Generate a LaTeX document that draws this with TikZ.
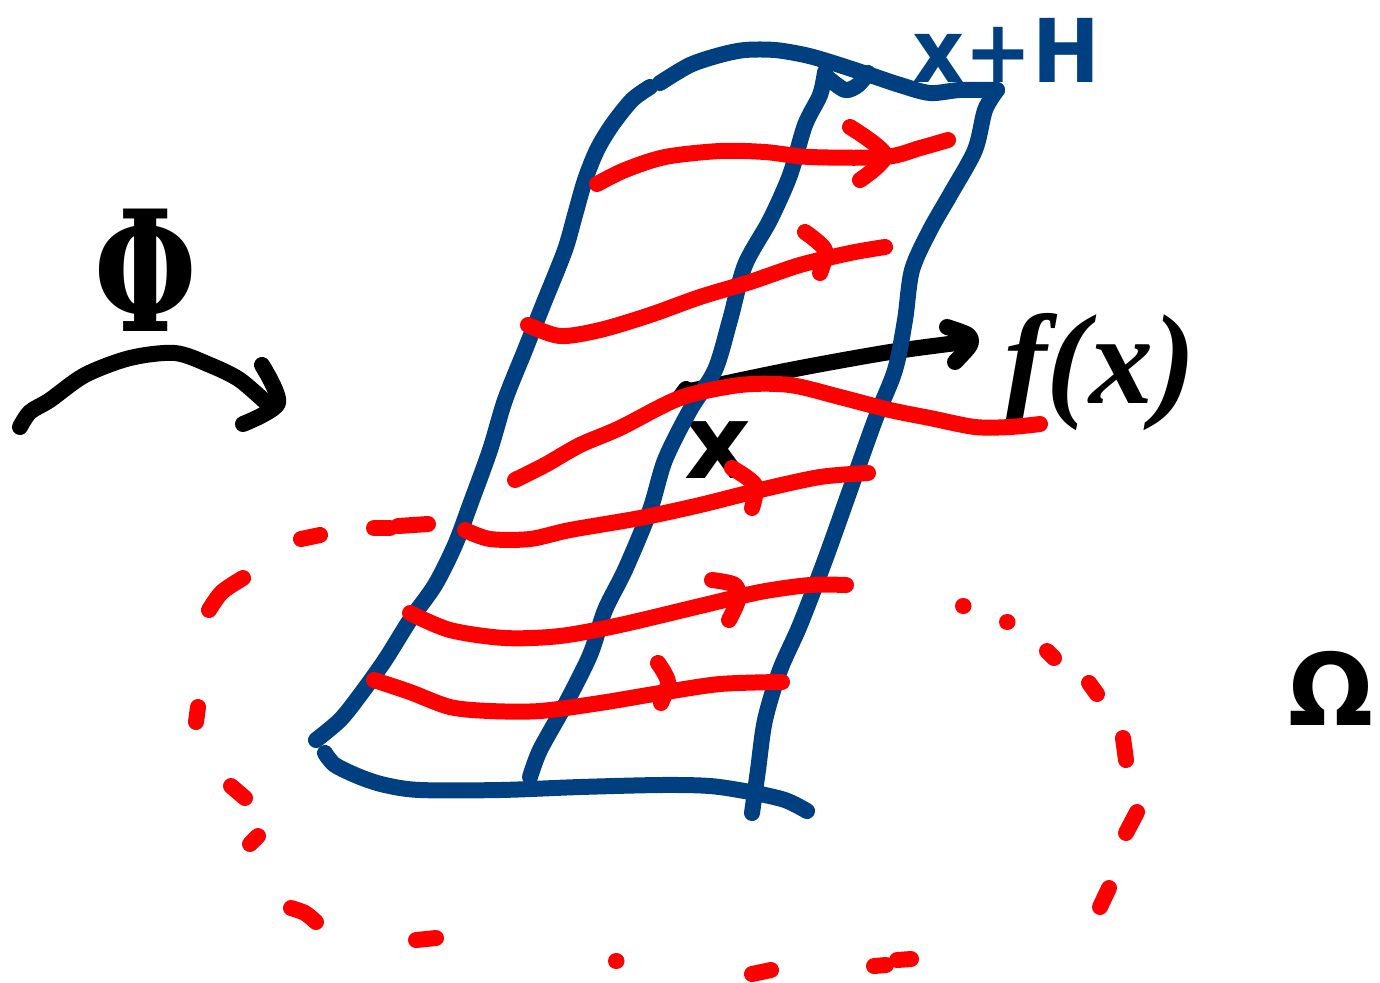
\documentclass[tikz,border=0pt]{standalone}
\usepackage{fontspec}
\setmainfont{DejaVu Sans}
\newfontfamily\serifhand{DejaVu Serif}
\newfontfamily\ithand{Liberation Serif}[BoldItalicFont={Liberation Serif Bold Italic}]
\definecolor{inkblue}{HTML}{004080}
\definecolor{inkred}{HTML}{FF0000}
\tikzset{
  inkline/.style={line width=8pt,line cap=round,line join=round},
  bluestroke/.style={inkline,draw=inkblue},
  redstroke/.style={inkline,draw=inkred},
  blackstroke/.style={inkline,draw=black},
  handtext/.style={inner sep=0pt,outer sep=0pt}
}
\newcommand{\sk}[2]{\draw[#1] plot[smooth,tension=0.5] coordinates {#2};}
\begin{document}
\begin{tikzpicture}[x=0.5pt,y=-0.5pt]
\useasboundingbox (0,0) rectangle (1380,982);
% black
\sk{blackstroke}{(680,397)(686,389)}
\sk{blackstroke}{(685,392)(790,370)(890,352)(965,342)}
\sk{blackstroke}{(947,327)(968,335)(970,345)(955,362)}
\sk{blackstroke}{(20,427)(30,412)(50,400)(85,375)(130,358)(175,353)(210,365)(240,380)(272,408)}
\sk{blackstroke}{(262,365)(278,403)(243,424)}
\node[handtext,text=black] (phi) at (146,270) {\scalebox{0.7}[1]{\serifhand\bfseries\fontsize{84pt}{84pt}\selectfont Φ}};
\node[handtext,text=black] (fx) at (1100,372) {\ithand\bfseries\itshape\fontsize{64pt}{64pt}\selectfont f(x)};
\node[handtext,text=black] (xlabel) at (718,450) {\bfseries\fontsize{52pt}{52pt}\selectfont x};
\node[handtext,text=black] (omega) at (1331,688) {\bfseries\fontsize{50pt}{50pt}\selectfont Ω};
\node[handtext,text=inkblue] (xh) at (1006,50) {\bfseries\fontsize{44pt}{44pt}\selectfont\scalebox{0.92}[1]{x+H}};
% blue
\sk{bluestroke}{(650,87)(632,100)(612,125)(597,150)(585,180)(575,215)(565,250)(545,300)(525,350)(505,400)(490,450)(470,505)(455,545)(435,585)(410,620)(385,660)(360,695)(340,720)(316,740)}
\sk{bluestroke}{(660,83)(690,65)(720,55)(745,50)(775,50)(805,55)(830,62)(870,75)(900,85)(930,93)(960,90)(997,90)}
\sk{bluestroke}{(325,753)(335,765)(360,777)(385,785)(420,790)(500,790)(580,787)(660,785)(710,786)(750,792)(785,800)(807,811)}
\sk{bluestroke}{(825,72)(820,95)(805,125)(790,175)(770,220)(745,265)(730,320)(715,370)(690,410)(665,460)(650,510)(625,570)(605,610)(590,655)(565,705)(540,750)(530,777)}
\sk{bluestroke}{(997,90)(985,110)(975,150)(950,195)(930,230)(912,270)(905,320)(895,370)(875,420)(850,490)(825,560)(800,625)(780,670)(765,720)(758,770)(752,813)}
\sk{bluestroke}{(828,78)(845,90)(858,85)(868,73)}
% red field lines
\sk{redstroke}{(597,184)(625,170)(665,157)(720,151)(765,152)(810,157)(885,157)(920,148)(948,140)}
\sk{redstroke}{(850,127)(885,155)(860,180)}
\sk{redstroke}{(528,325)(560,336)(600,330)(650,315)(700,297)(750,282)(800,265)(850,253)(885,247)}
\sk{redstroke}{(805,232)(825,250)(820,273)}
\sk{redstroke}{(515,480)(545,465)(580,445)(620,428)(680,398)(740,385)(790,385)(840,397)(890,410)(930,418)(975,427)(1010,427)(1040,424)}
\sk{redstroke}{(465,530)(490,539)(530,539)(570,530)(640,518)(700,505)(760,490)(820,477)(868,473)}
\sk{redstroke}{(732,468)(755,485)(752,508)}
\sk{redstroke}{(410,613)(450,630)(505,638)(560,636)(620,625)(700,606)(760,592)(810,585)(846,585)}
\sk{redstroke}{(712,580)(735,585)(738,600)(729,620)}
\sk{redstroke}{(374,680)(410,692)(450,707)(490,711)(540,711)(600,703)(660,693)(720,684)(782,682)}
\sk{redstroke}{(658,663)(668,682)(661,703)}
% red dashed circle
\sk{redstroke}{(301,539)(320,535)}
\sk{redstroke}{(374,528)(390,528)}
\sk{redstroke}{(398,526)(428,524)}
\sk{redstroke}{(209,610)(222,592)(243,578)}
\sk{redstroke}{(198,707)(196,722)}
\sk{redstroke}{(231,786)(245,798)}
\sk{redstroke}{(258,836)(250,844)}
\sk{redstroke}{(291,908)(305,913)(316,922)}
\sk{redstroke}{(416,940)(436,938)}
\sk{redstroke}{(616,961)(616.5,961)}
\sk{redstroke}{(752,974)(771,970)}
\sk{redstroke}{(874,966)(886,965)}
\sk{redstroke}{(897,960)(911,959)}
\sk{redstroke}{(1100,907)(1109,888)}
\sk{redstroke}{(1126,833)(1137,812)}
\sk{redstroke}{(1126,760)(1123,738)}
\sk{redstroke}{(1097,694)(1089,683)}
\sk{redstroke}{(1054,658)(1047,651)}
\sk{redstroke}{(1007,622)(1007.5,622)}
\sk{redstroke}{(963,606)(963.5,606)}
\end{tikzpicture}
\end{document}
